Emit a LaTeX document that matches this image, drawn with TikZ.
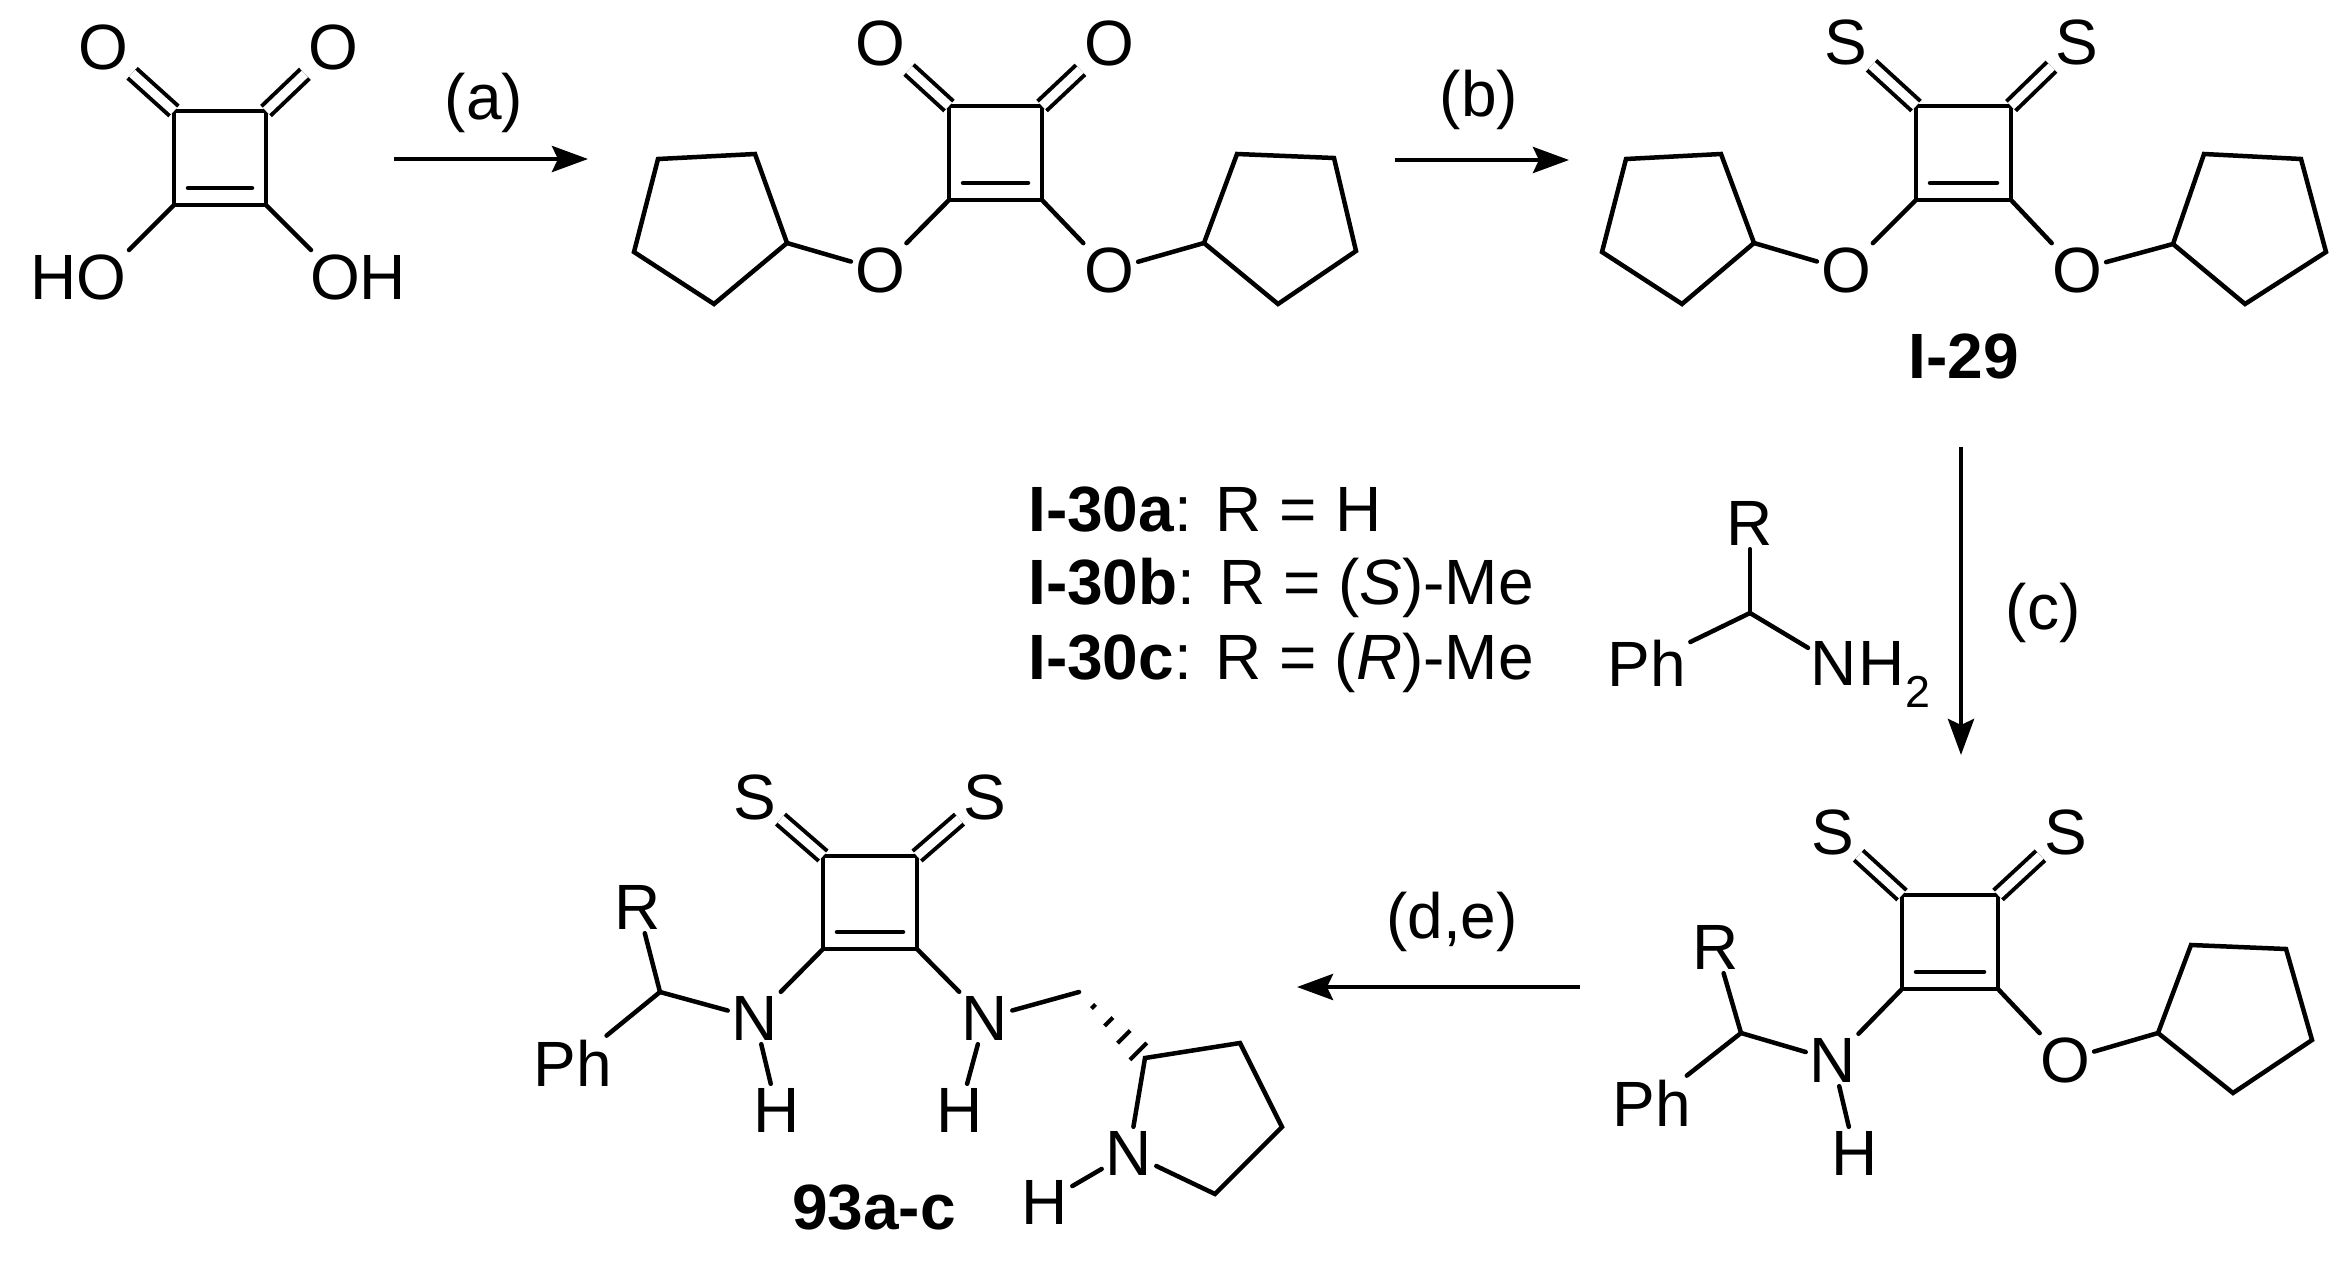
\documentclass[tikz,border=0pt]{standalone}
\usepackage{fontspec}
\setmainfont{Liberation Sans}
\usetikzlibrary{arrows.meta,calc}
\begin{document}
\begin{tikzpicture}[x=1pt,y=-1pt,
  every node/.style={font=\fontsize{64}{70}\selectfont,inner sep=4pt},
  bond/.style={line width=4.5pt,line cap=round,line join=miter},
  dbl/.style={line width=4pt,double,double distance=9pt},
  rxn/.style={line width=4.5pt,-{Stealth[length=36pt,width=26pt,inset=6pt]}},
  lbl/.style={font=\fontsize{64}{70}\selectfont\bfseries}]
\useasboundingbox (0,0) rectangle (2351,1282);
\newcommand{\cbsq}[4]{% TLx TLy BRx BRy
  \draw[bond] (#1,#2) rectangle (#3,#4);
  \draw[bond] ($(#1,#4)+(14,-17)$) -- ($(#3,#4)+(-14,-17)$);}
% ---- Mol 1: squaric acid
\coordinate (a1) at (174,111); \coordinate (a2) at (266,111);
\coordinate (a3) at (266,205); \coordinate (a4) at (174,205);
\cbsq{174}{111}{266}{205}
\node (aO1) at (103,47) {O}; \node (aO2) at (333,47) {O};
\node (aHO) at (78,277) {HO}; \node (aOH) at (358,277) {OH};
\coordinate (aHOe) at (129,250); \coordinate (aOHe) at (311,250);
\draw[dbl] (a1) -- (aO1); \draw[dbl] (a2) -- (aO2);
\draw[bond] (a4) -- (aHOe); \draw[bond] (a3) -- (aOHe);
% arrow a
\coordinate (ra1) at (394,159); \coordinate (ra2) at (588,159);
\draw[rxn] (ra1) -- (ra2);
\node (la) at (484,103) {(a)};
% ---- Mol 2
\coordinate (b1) at (949,106); \coordinate (b2) at (1042,106);
\coordinate (b3) at (1042,200); \coordinate (b4) at (949,200);
\cbsq{949}{106}{1042}{200}
\node (bO1) at (880,43) {O}; \node (bO2) at (1109,43) {O};
\node (bO3) at (880,270) {O}; \node (bO4) at (1109,270) {O};
\draw[dbl] (b1) -- (bO1); \draw[dbl] (b2) -- (bO2);
\draw[bond] (b4) -- (bO3); \draw[bond] (b3) -- (bO4);
\draw[bond] (787,243) -- (755,154) -- (658,159) -- (634,252) -- (714,304) -- cycle;
\draw[bond] (787,243) -- (bO3);
\draw[bond] (bO4) -- (1204,243);
\draw[bond] (1204,243) -- (1237,154) -- (1334,158) -- (1356,251) -- (1278,304) -- cycle;
% arrow b
\coordinate (rb1) at (1395,160); \coordinate (rb2) at (1569,160);
\draw[rxn] (rb1) -- (rb2);
\node (lb) at (1479,100) {(b)};
% ---- Mol 3: I-29
\coordinate (c1) at (1916,106); \coordinate (c2) at (2011,106);
\coordinate (c3) at (2011,200); \coordinate (c4) at (1916,200);
\cbsq{1916}{106}{2011}{200}
\node (cS1) at (1846,42) {S}; \node (cS2) at (2077,42) {S};
\node (cO3) at (1846,270) {O}; \node (cO4) at (2077,270) {O};
\draw[dbl] (c1) -- (cS1); \draw[dbl] (c2) -- (cS2);
\draw[bond] (c4) -- (cO3); \draw[bond] (c3) -- (cO4);
\draw[bond] (cO3) -- (1754,243);
\draw[bond] (1754,243) -- (1721,154) -- (1626,159) -- (1602,252) -- (1682,304) -- cycle;
\draw[bond] (cO4) -- (2173,244);
\draw[bond] (2173,244) -- (2204,154) -- (2301,159) -- (2326,252) -- (2245,304) -- cycle;
\node[lbl] (I29) at (1964,356) {I-29};
% arrow c
\coordinate (rc1) at (1961,447); \coordinate (rc2) at (1961,755);
\draw[rxn] (rc1) -- (rc2);
\node (lc) at (2043,613) {(c)};
% reagent text
\node[anchor=west] (t1) at (1024,510) {\textbf{I-30a}: R = H};
\node[anchor=west] (t2) at (1024,588) {\textbf{I-30b}: R = (\textit{S})-Me};
\node[anchor=west] (t3) at (1024,663) {\textbf{I-30c}: R = (\textit{R})-Me};
\coordinate (amC) at (1750,613);
\node (amR) at (1750,523) {R};
\node (amPh) at (1647,663) {Ph};
\node[anchor=west,inner sep=2pt] (amN) at (1808,663) {N};
\node[anchor=base west,inner sep=0pt] (amH) at (amN.base east) {H\textsubscript{2}};
\draw[bond] (amR) -- (amC); \draw[bond] (amPh) -- (amC); \draw[bond] (amC) -- (amN);
% ---- Mol 4
\coordinate (d1) at (1902,895); \coordinate (d2) at (1998,895);
\coordinate (d3) at (1998,989); \coordinate (d4) at (1902,989);
\cbsq{1902}{895}{1998}{989}
\node (dS1) at (1833,832) {S}; \node (dS2) at (2066,832) {S};
\node (dN) at (1833,1060) {N}; \node (dH) at (1855,1153) {H};
\node (dO) at (2065,1060) {O};
\coordinate (dC) at (1741,1033);
\node (dR) at (1716,947) {R}; \node (dPh) at (1652,1103) {Ph};
\draw[dbl] (d1) -- (dS1); \draw[dbl] (d2) -- (dS2);
\draw[bond] (d4) -- (dN); \draw[bond] (d3) -- (dO);
\draw[bond] (dN) -- (dH);
\draw[bond] (dR) -- (dC); \draw[bond] (dPh) -- (dC); \draw[bond] (dC) -- (dN);
\draw[bond] (dO) -- (2158,1033);
\draw[bond] (2158,1033) -- (2191,945) -- (2286,949) -- (2312,1040) -- (2233,1093) -- cycle;
% arrow d,e
\coordinate (rd1) at (1580,987); \coordinate (rd2) at (1297,987);
\draw[rxn] (rd1) -- (rd2);
\node (ld) at (1452,922) {(d,e)};
% ---- Mol 5: 93a-c
\coordinate (e1) at (823,856); \coordinate (e2) at (917,856);
\coordinate (e3) at (917,949); \coordinate (e4) at (823,949);
\cbsq{823}{856}{917}{949}
\node (eS1) at (755,797) {S}; \node (eS2) at (985,797) {S};
\node (eN1) at (755,1018) {N}; \node (eH1) at (777,1110) {H};
\node (eN2) at (985,1018) {N}; \node (eH2) at (960,1110) {H};
\coordinate (eC) at (660,992);
\node (eR) at (638,907) {R}; \node (ePh) at (573,1063) {Ph};
\draw[dbl] (e1) -- (eS1); \draw[dbl] (e2) -- (eS2);
\draw[bond] (e4) -- (eN1); \draw[bond] (e3) -- (eN2);
\draw[bond] (eN1) -- (eH1); \draw[bond] (eN2) -- (eH2);
\draw[bond] (eR) -- (eC); \draw[bond] (ePh) -- (eC); \draw[bond] (eC) -- (eN1);
\coordinate (eCH) at (1079,992);
\coordinate (p2) at (1145,1058);
\draw[bond] (eN2) -- (eCH);
\foreach \t/\w in {0.22/3,0.45/6,0.68/9,0.9/12}{
  \draw[line width=4pt] ($(eCH)!\t!(p2)+(\w*0.707,-\w*0.707)$) -- ($(eCH)!\t!(p2)+(-\w*0.707,\w*0.707)$);}
\node (pN) at (1129,1153) {N};
\node (pH) at (1045,1202) {H};
\draw[bond] (pN) -- (p2) -- (1240,1043) -- (1282,1127) -- (1215,1194) -- (pN);
\draw[bond] (pH) -- (pN);
\node[lbl] (e93) at (874,1208) {93a-c};
\end{tikzpicture}
\end{document}
